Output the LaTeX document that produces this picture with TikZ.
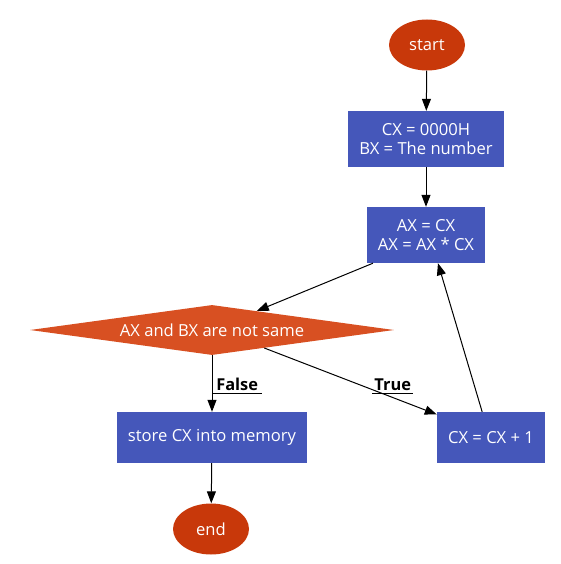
\documentclass[tikz,border=0pt]{standalone}
\usepackage{fontspec}
\setmainfont{Open Sans}
\usetikzlibrary{shapes.geometric,arrows.meta}
\definecolor{boxblue}{RGB}{69,87,186}
\definecolor{ellred}{RGB}{200,56,10}
\definecolor{diaorange}{RGB}{216,80,34}
\tikzset{
  every node/.style={font=\fontsize{16.6}{19}\selectfont},
  term/.style={ellipse, fill=ellred, text=white, minimum width=76pt, minimum height=51pt, inner sep=0pt},
  proc/.style={rectangle, fill=boxblue, text=white, align=center, inner sep=0pt},
  dec/.style={diamond, fill=diaorange, text=white, inner sep=0pt, aspect=7.3, minimum width=364pt, minimum height=50pt},
  flow/.style={-{Triangle[length=12pt,width=9pt]}, line width=1pt},
  lbl/.style={font=\fontsize{16.4}{19}\selectfont\bfseries, inner xsep=0pt, inner ysep=2pt, text=black},
}
\begin{document}
\begin{tikzpicture}[x=1pt,y=-1pt]
\useasboundingbox (0,0) rectangle (560,564);
\node[term] (start) at (427,45) {start};
\node[proc, minimum width=156pt, minimum height=56pt] (b1) at (426,139) {CX = 0000H\\BX = The number};
\node[proc, minimum width=118pt, minimum height=56pt] (b2) at (426,235) {AX = CX\\AX = AX * CX};
\node[dec] (dia) at (212,330) {AX and BX are not same};
\node[proc, minimum width=190pt, minimum height=51pt] (store) at (212,437.5) {store CX into memory};
\node[proc, minimum width=108pt, minimum height=51pt] (inc) at (491,437.5) {CX = CX + 1};
\node[term] (end) at (211,529) {end};

\draw[flow] (start) -- (b1);
\draw[flow] (b1) -- (b2);
\draw[flow] (b2.208) -- (dia.23);
\draw[flow] (dia.south) -- (store.north);
\draw[flow] (dia.-19.8) -- (inc.157);
\draw[flow] (inc.109) -- (b2.-67);
\draw[flow] (store) -- (end);

\node[lbl, minimum width=50pt, anchor=south west] (lf) at (212,393) {False};
\draw[line width=0.8pt] (lf.south west) -- (lf.south east);
\node[lbl, minimum width=41pt, anchor=south west] (lt) at (372,393) {True};
\draw[line width=0.8pt] (lt.south west) -- (lt.south east);
\end{tikzpicture}
\end{document}
